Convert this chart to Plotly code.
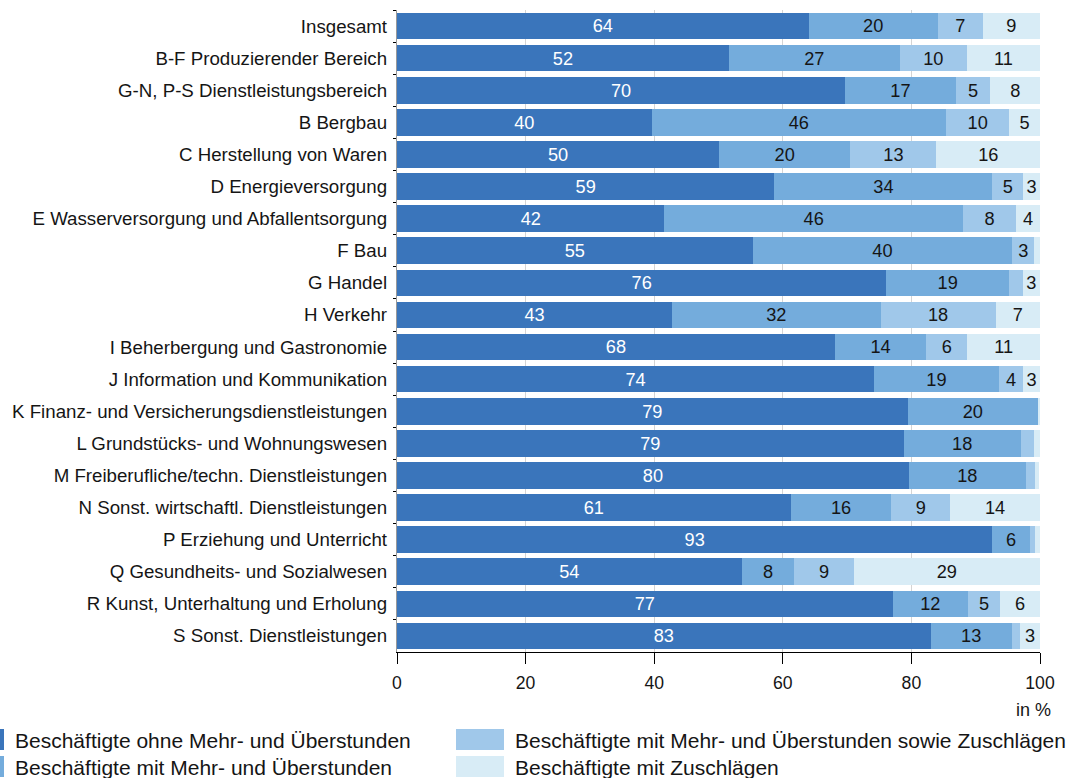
import plotly.graph_objects as go

categories = [
    "Insgesamt",
    "B-F Produzierender Bereich",
    "G-N, P-S Dienstleistungsbereich",
    "B Bergbau",
    "C Herstellung von Waren",
    "D Energieversorgung",
    "E Wasserversorgung und Abfallentsorgung",
    "F Bau",
    "G Handel",
    "H Verkehr",
    "I Beherbergung und Gastronomie",
    "J Information und Kommunikation",
    "K Finanz- und Versicherungsdienstleistungen",
    "L Grundstücks- und Wohnungswesen",
    "M Freiberufliche/techn. Dienstleistungen",
    "N Sonst. wirtschaftl. Dienstleistungen",
    "P Erziehung und Unterricht",
    "Q Gesundheits- und Sozialwesen",
    "R Kunst, Unterhaltung und Erholung",
    "S Sonst. Dienstleistungen",
]

ohne = [64.0, 51.6, 69.7, 39.6, 50.1, 58.7, 41.6, 55.3, 76.1, 42.8,
        68.1, 74.2, 79.4, 78.8, 79.6, 61.2, 92.6, 53.6, 77.1, 83.0]
mehr = [20.1, 26.6, 17.2, 45.8, 20.4, 33.9, 46.4, 40.4, 19.1, 32.4,
        14.2, 19.4, 20.3, 18.2, 18.2, 15.7, 5.8, 8.2, 11.7, 12.6]
mehr_zuschl = [7.0, 10.4, 5.4, 9.8, 13.4, 4.8, 8.3, 3.4, 2.1, 17.9,
               6.4, 3.8, 0.0, 2.1, 1.4, 9.1, 0.8, 9.2, 5.0, 1.3]
zuschl = [8.9, 11.4, 7.7, 4.8, 16.1, 2.6, 3.7, 0.9, 2.7, 6.9,
          11.3, 2.6, 0.3, 0.9, 0.7, 14.0, 0.8, 29.0, 6.2, 3.1]

series_names = [
    "Beschäftigte ohne Mehr- und Überstunden",
    "Beschäftigte mit Mehr- und Überstunden",
    "Beschäftigte mit Mehr- und Überstunden sowie Zuschlägen",
    "Beschäftigte mit Zuschlägen",
]
x_ticks = [0, 20, 40, 60, 80, 100]

COLORS = ["#3a75bb", "#74acdc", "#a0c8ea", "#d8ecf6"]
TEXT_COLORS = ["white", "#151515", "#151515", "#151515"]
FONT = "Liberation Sans, Arial, sans-serif"

W, H = 1077, 778
# plot area in page pixels (used to place the hand-made legend)
L, R, T, B = 397, 1040, 10, 652


def px_x(p):
    return (p - L) / (R - L)


def px_y(p):
    return (B - p) / (B - T)


fig = go.Figure()
for name, vals, col, tcol in zip(series_names, [ohne, mehr, mehr_zuschl, zuschl], COLORS, TEXT_COLORS):
    fig.add_trace(
        go.Bar(
            y=categories,
            x=vals,
            name=name,
            orientation="h",
            marker=dict(color=col, line=dict(width=0)),
            text=[f"{v:.0f}" if v >= 2.5 else "" for v in vals],
            textposition="inside",
            insidetextanchor="middle",
            textangle=0,
            textfont=dict(color=tcol, size=18.5, family=FONT),
            hovertemplate="%{y}: %{x}<extra></extra>",
            showlegend=False,
        )
    )

# legend drawn by hand: two columns, column-major, left swatches cut off at the edge
legend_pos = [(-44, 729), (-44, 756), (456, 729), (456, 756)]
for (sx, sy), name, col in zip(legend_pos, series_names, COLORS):
    fig.add_shape(
        type="rect", xref="paper", yref="paper",
        x0=px_x(sx), x1=px_x(sx + 48), y0=px_y(sy), y1=px_y(sy + 21),
        fillcolor=col, line=dict(width=0), layer="above",
    )
    fig.add_annotation(
        xref="paper", yref="paper", x=px_x(sx + 57), y=px_y(sy + 11),
        text=name, showarrow=False, xanchor="left", yanchor="middle",
        font=dict(size=21, color="#151515", family=FONT),
    )

fig.add_annotation(
    xref="paper", yref="paper", x=px_x(1053), y=px_y(710),
    text="in %", showarrow=False, xanchor="right", yanchor="middle",
    font=dict(size=18, color="#151515", family=FONT),
)

fig.update_layout(
    barmode="stack",
    bargap=0.17,
    width=W,
    height=H,
    margin=dict(l=L, r=W - R, t=T, b=H - B, pad=0),
    plot_bgcolor="white",
    paper_bgcolor="white",
    font=dict(family=FONT, size=18.7, color="#151515"),
    uniformtext=dict(minsize=18, mode="show"),
    xaxis=dict(
        range=[0, 100],
        tickvals=x_ticks,
        showgrid=True,
        gridcolor="#d4d4d4",
        gridwidth=1,
        zeroline=False,
        showline=True,
        linecolor="black",
        linewidth=1,
        ticks="outside",
        ticklen=11,
        tickcolor="black",
        tickfont=dict(size=17.6),
        ticklabelstandoff=4,
    ),
    yaxis=dict(
        autorange="reversed",
        showline=True,
        linecolor="#999999",
        linewidth=1,
        ticks="outside",
        tickson="boundaries",
        ticklen=3,
        tickcolor="black",
        showgrid=False,
        ticksuffix=" ",
        tickfont=dict(size=18.7),
    ),
)

# drop the default body margin so the figure sits at the window's top-left corner
fig.write_html(
    "out.html",
    config={"displayModeBar": False},
    post_script="document.body.style.margin='0';",
)
